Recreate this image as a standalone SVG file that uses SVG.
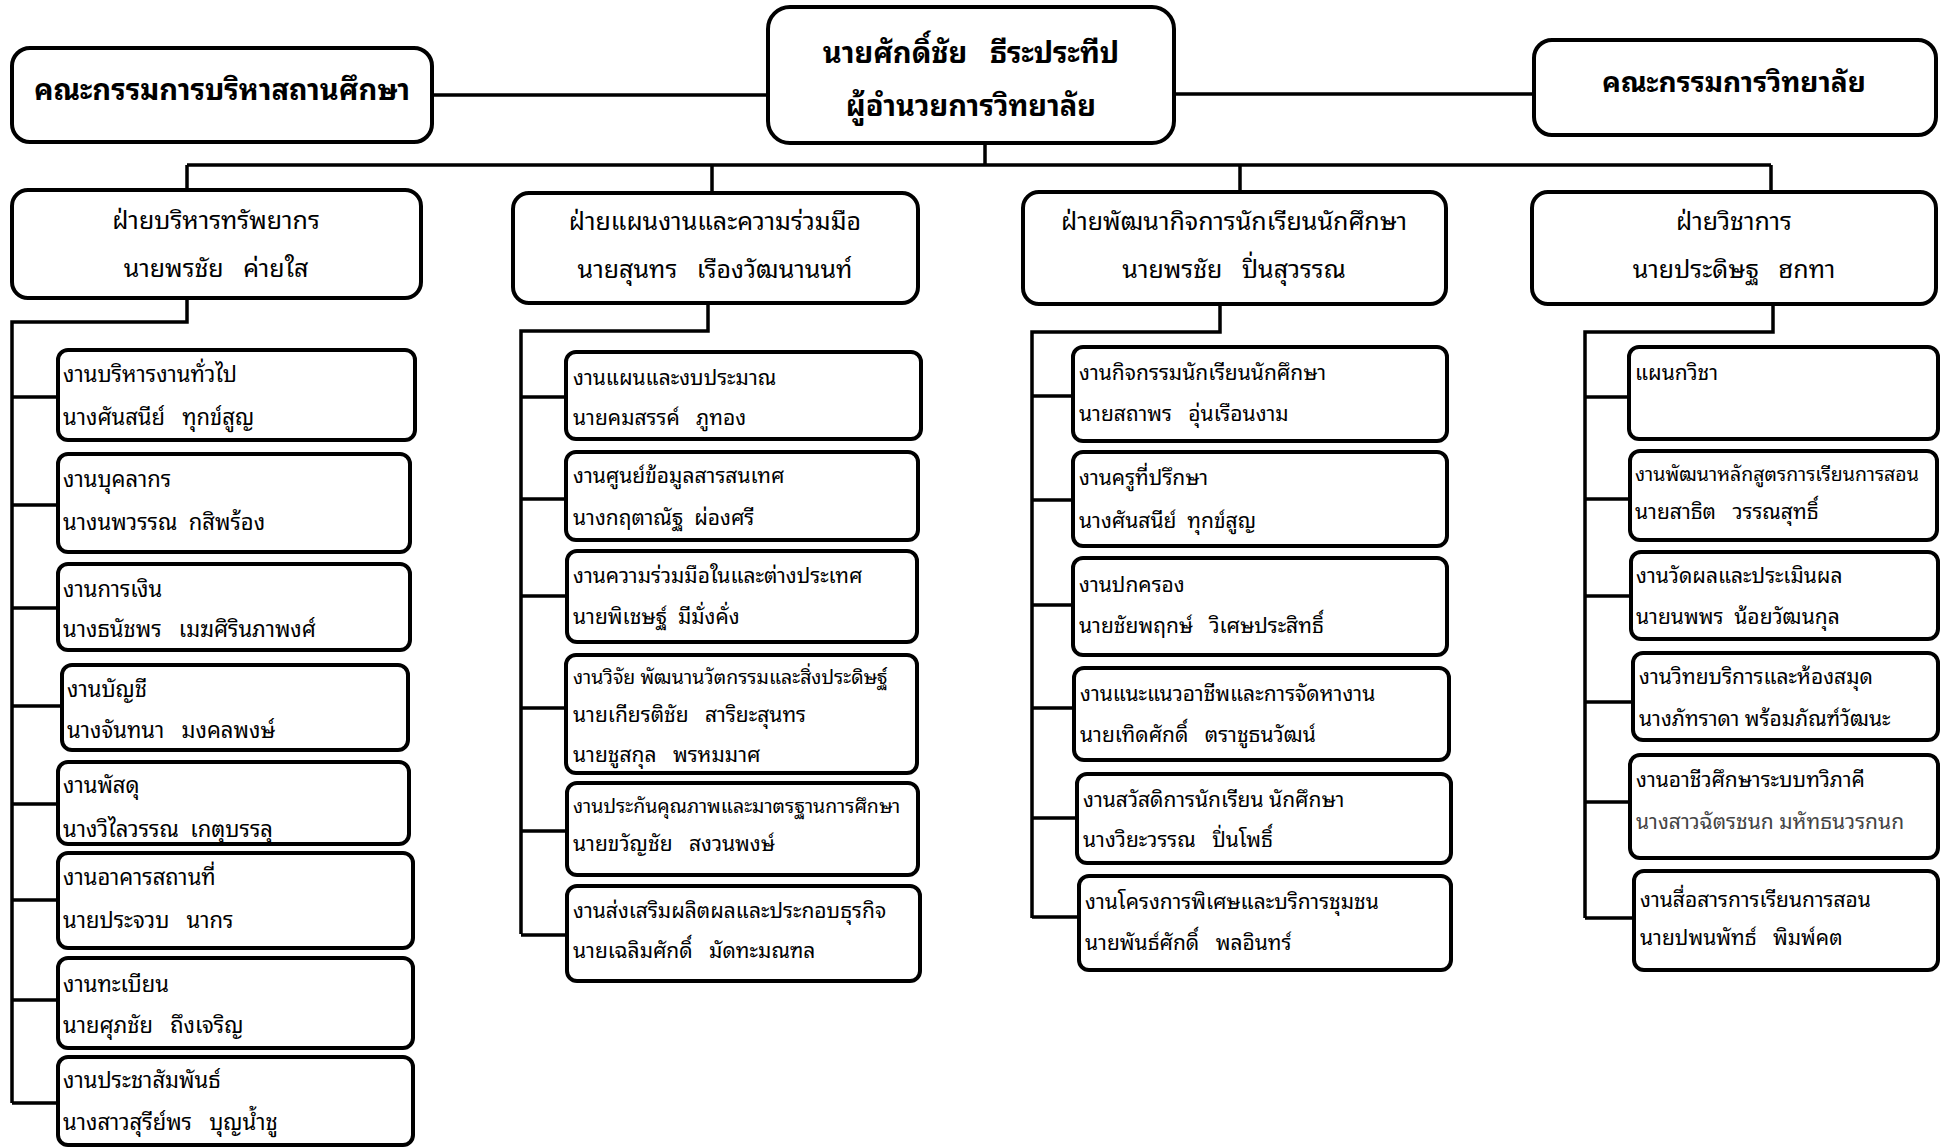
<svg xmlns="http://www.w3.org/2000/svg" width="1941" height="1147" viewBox="0 0 1941 1147">
<style>
.bx{fill:#fff;stroke:#000;stroke-width:4}
.ln{fill:none;stroke:#000;stroke-width:3.5}
text{font-family:"Noto Sans Thai Looped","Loma","Garuda","Tlwg Typo","Noto Serif Thai","Noto Sans Thai","Noto Sans",sans-serif;white-space:pre;fill:#000}
.t{font-size:29px;font-weight:bold;text-anchor:middle}
.d{font-size:25px;text-anchor:middle}
.s{font-size:22px}
.m{font-size:21px}
.n{font-size:19.5px}
</style>
<rect width="1941" height="1147" fill="#fff"/>
<g id="connectors">
<path class="ln" d="M432 95H768M1174 94H1533M985 143V165M187 165H1771M187 165V190M712 165V193M1240 165V192M1771 165V192"/>
<path class="ln" d="M187 298V322H12V1103M12 397H58M12 505H58M12 608H58M12 706H62M12 804H58M12 900H58M12 1000H58M12 1103H58"/>
<path class="ln" d="M708 303V331H521V934M521 397H566M521 499H566M521 596H567M521 708H566M521 831H567M521 935H567"/>
<path class="ln" d="M1220 304V332H1032V918M1032 396H1073M1032 500H1073M1032 605H1073M1032 708H1074M1032 818H1077M1032 917H1079"/>
<path class="ln" d="M1773 304V332H1585V918M1585 397H1629M1585 499H1630M1585 596H1631M1585 702H1633M1585 802H1630M1585 918H1634"/>
</g>
<g id="board-admin"><rect class="bx" x="12" y="48" width="420" height="94" rx="18"/><text class="t" x="222" y="100">คณะกรรมการบริหาสถานศึกษา</text></g>
<g id="director"><rect class="bx" x="768" y="7" width="406" height="136" rx="22"/><text class="t" x="971" y="63">นายศักดิ์ชัย   ธีระประทีป</text><text class="t" x="971" y="116">ผู้อำนวยการวิทยาลัย</text></g>
<g id="board-college"><rect class="bx" x="1534" y="40" width="402" height="95" rx="18"/><text class="t" x="1734" y="92" style="font-size:28px">คณะกรรมการวิทยาลัย</text></g>

<g id="div1"><rect class="bx" x="12" y="190" width="409" height="108" rx="16"/><text class="d" x="216" y="229">ฝ่ายบริหารทรัพยากร</text><text class="d" x="216" y="277">นายพรชัย   ค่ายใส</text></g>
<g id="div2"><rect class="bx" x="513" y="193" width="405" height="110" rx="16"/><text class="d" x="715" y="230">ฝ่ายแผนงานและความร่วมมือ</text><text class="d" x="715" y="278">นายสุนทร   เรืองวัฒนานนท์</text></g>
<g id="div3"><rect class="bx" x="1023" y="192" width="423" height="112" rx="16"/><text class="d" x="1234" y="230">ฝ่ายพัฒนากิจการนักเรียนนักศึกษา</text><text class="d" x="1234" y="278">นายพรชัย   ปิ่นสุวรรณ</text></g>
<g id="div4"><rect class="bx" x="1532" y="192" width="404" height="112" rx="16"/><text class="d" x="1734" y="230">ฝ่ายวิชาการ</text><text class="d" x="1734" y="278">นายประดิษฐ   ฮกทา</text></g>

<g id="c1a"><rect class="bx" x="58" y="350" width="357" height="90" rx="10"/><text class="s" x="63" y="382">งานบริหารงานทั่วไป</text><text class="s" x="63" y="425">นางศันสนีย์   ทุกข์สูญ</text></g>
<g id="c1b"><rect class="bx" x="58" y="454" width="352" height="98" rx="10"/><text class="s" x="63" y="487">งานบุคลากร</text><text class="s" x="63" y="530">นางนพวรรณ  กสิพร้อง</text></g>
<g id="c1c"><rect class="bx" x="58" y="564" width="352" height="86" rx="10"/><text class="s" x="63" y="597">งานการเงิน</text><text class="s" x="63" y="637">นางธนัชพร   เมฆศิรินภาพงศ์</text></g>
<g id="c1d"><rect class="bx" x="62" y="665" width="346" height="85" rx="10"/><text class="s" x="67" y="697">งานบัญชี</text><text class="s" x="67" y="738">นางจันทนา   มงคลพงษ์</text></g>
<g id="c1e"><rect class="bx" x="58" y="762" width="351" height="82" rx="10"/><text class="s" x="63" y="793">งานพัสดุ</text><text class="s" x="63" y="837">นางวิไลวรรณ  เกตุบรรลุ</text></g>
<g id="c1f"><rect class="bx" x="58" y="853" width="355" height="95" rx="10"/><text class="s" x="63" y="885">งานอาคารสถานที่</text><text class="s" x="63" y="928">นายประจวบ   นากร</text></g>
<g id="c1g"><rect class="bx" x="58" y="958" width="355" height="90" rx="10"/><text class="s" x="63" y="992">งานทะเบียน</text><text class="s" x="63" y="1033">นายศุภชัย   ถึงเจริญ</text></g>
<g id="c1h"><rect class="bx" x="58" y="1057" width="355" height="88" rx="10"/><text class="s" x="63" y="1088">งานประชาสัมพันธ์</text><text class="s" x="63" y="1130">นางสาวสุรีย์พร   บุญน้ำชู</text></g>

<g id="c2a"><rect class="bx" x="566" y="352" width="355" height="87" rx="10"/><text class="m" x="573" y="385">งานแผนและงบประมาณ</text><text class="m" x="573" y="425">นายคมสรรค์   ภูทอง</text></g>
<g id="c2b"><rect class="bx" x="566" y="452" width="352" height="88" rx="10"/><text class="m" x="573" y="483">งานศูนย์ข้อมูลสารสนเทศ</text><text class="m" x="573" y="525">นางกฤตาณัฐ  ผ่องศรี</text></g>
<g id="c2c"><rect class="bx" x="567" y="551" width="350" height="91" rx="10"/><text class="m" x="573" y="583">งานความร่วมมือในและต่างประเทศ</text><text class="m" x="573" y="624">นายพิเชษฐ์  มีมั่งคั่ง</text></g>
<g id="c2d"><rect class="bx" x="566" y="655" width="351" height="118" rx="10"/><text class="n" x="573" y="684">งานวิจัย พัฒนานวัตกรรมและสิ่งประดิษฐ์</text><text class="m" x="573" y="722">นายเกียรติชัย   สาริยะสุนทร</text><text class="m" x="573" y="762">นายชูสกุล   พรหมมาศ</text></g>
<g id="c2e"><rect class="bx" x="567" y="783" width="351" height="92" rx="10"/><text class="n" x="573" y="813">งานประกันคุณภาพและมาตรฐานการศึกษา</text><text class="m" x="573" y="851">นายขวัญชัย   สงวนพงษ์</text></g>
<g id="c2f"><rect class="bx" x="567" y="886" width="353" height="95" rx="10"/><text class="m" x="573" y="918">งานส่งเสริมผลิตผลและประกอบธุรกิจ</text><text class="m" x="573" y="958">นายเฉลิมศักดิ์   มัดทะมณฑล</text></g>

<g id="c3a"><rect class="bx" x="1073" y="347" width="374" height="94" rx="10"/><text class="m" x="1079" y="380">งานกิจกรรมนักเรียนนักศึกษา</text><text class="m" x="1079" y="421">นายสถาพร   อุ่นเรือนงาม</text></g>
<g id="c3b"><rect class="bx" x="1073" y="452" width="374" height="94" rx="10"/><text class="m" x="1079" y="485">งานครูที่ปรึกษา</text><text class="m" x="1079" y="528">นางศันสนีย์  ทุกข์สูญ</text></g>
<g id="c3c"><rect class="bx" x="1073" y="558" width="374" height="97" rx="10"/><text class="m" x="1079" y="592">งานปกครอง</text><text class="m" x="1079" y="633">นายชัยพฤกษ์   วิเศษประสิทธิ์</text></g>
<g id="c3d"><rect class="bx" x="1074" y="668" width="375" height="92" rx="10"/><text class="m" x="1080" y="701">งานแนะแนวอาชีพและการจัดหางาน</text><text class="m" x="1080" y="742">นายเทิดศักดิ์   ตราชูธนวัฒน์</text></g>
<g id="c3e"><rect class="bx" x="1077" y="774" width="374" height="89" rx="10"/><text class="m" x="1083" y="807">งานสวัสดิการนักเรียน นักศึกษา</text><text class="m" x="1083" y="847">นางวิยะวรรณ   ปิ่นโพธิ์</text></g>
<g id="c3f"><rect class="bx" x="1079" y="876" width="372" height="94" rx="10"/><text class="m" x="1085" y="909">งานโครงการพิเศษและบริการชุมชน</text><text class="m" x="1085" y="950">นายพันธ์ศักดิ์   พลอินทร์</text></g>

<g id="c4a"><rect class="bx" x="1629" y="347" width="309" height="92" rx="10"/><text class="m" x="1635" y="380">แผนกวิชา</text></g>
<g id="c4b"><rect class="bx" x="1630" y="451" width="307" height="89" rx="10"/><text class="n" x="1635" y="481">งานพัฒนาหลักสูตรการเรียนการสอน</text><text class="m" x="1635" y="519">นายสาธิต   วรรณสุทธิ์</text></g>
<g id="c4c"><rect class="bx" x="1631" y="552" width="307" height="87" rx="10"/><text class="m" x="1636" y="583">งานวัดผลและประเมินผล</text><text class="m" x="1636" y="624">นายนพพร  น้อยวัฒนกุล</text></g>
<g id="c4d"><rect class="bx" x="1633" y="653" width="305" height="87" rx="10"/><text class="m" x="1639" y="684">งานวิทยบริการและห้องสมุด</text><text class="m" x="1639" y="726">นางภัทราดา พร้อมภัณฑ์วัฒนะ</text></g>
<g id="c4e"><rect class="bx" x="1630" y="755" width="308" height="103" rx="10"/><text class="m" x="1636" y="787">งานอาชีวศึกษาระบบทวิภาคี</text><text class="m" x="1636" y="829" style="fill:#444">นางสาวฉัตรชนก มหัทธนวรกนก</text></g>
<g id="c4f"><rect class="bx" x="1634" y="871" width="304" height="99" rx="10"/><text class="m" x="1640" y="907">งานสื่อสารการเรียนการสอน</text><text class="m" x="1640" y="945">นายปพนพัทธ์   พิมพ์คต</text></g>
</svg>
